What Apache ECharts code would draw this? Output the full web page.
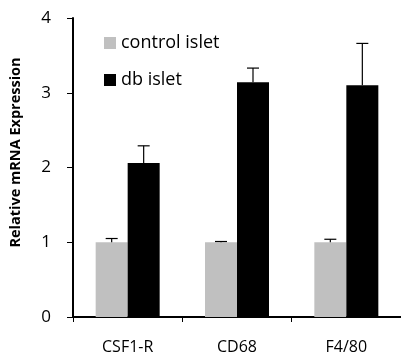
<!DOCTYPE html>
<html>
<head>
<meta charset="utf-8">
<script src="https://cdn.jsdelivr.net/npm/echarts@6/dist/echarts.min.js"></script>
<style>
  html, body { margin: 0; padding: 0; background: #fff; }
  #chart { width: 401px; height: 363px; }
</style>
</head>
<body>
<div id="chart"></div>
<script>
const categories = ['CSF1-R', 'CD68', 'F4/80']
const controlValues = [1.0, 1.0, 1.0]
const controlErrors = [0.05, 0.01, 0.04]
const dbValues = [2.06, 3.14, 3.10]
const dbErrors = [0.23, 0.19, 0.56]
const yTicks = [0, 1, 2, 3, 4]

const FONT = 'Open Sans'
const BAR_W = 32

const chart = echarts.init(document.getElementById('chart'), null, { renderer: 'canvas' })

// draws an upward-only error bar with a cap, offset to sit on the matching bar
function errorBar(offset) {
  return (params, api) => {
    const i = api.value(0)
    const top = api.coord([i, api.value(1) + api.value(2)])
    const base = api.coord([i, api.value(1)])
    const x = base[0] + offset
    const cap = 6
    return {
      type: 'group',
      children: [
        { type: 'line', shape: { x1: x, y1: base[1], x2: x, y2: top[1] }, style: { stroke: '#000', lineWidth: 1.2 } },
        { type: 'line', shape: { x1: x - cap, y1: top[1], x2: x + cap, y2: top[1] }, style: { stroke: '#000', lineWidth: 1.2 } },
      ],
    }
  }
}

const option = {
  animation: false,
  textStyle: { fontFamily: FONT },
  legend: {
    orient: 'vertical',
    left: 104,
    top: 34,
    padding: 0,
    itemWidth: 12,
    itemHeight: 12,
    itemGap: 19,
    icon: 'rect',
    textStyle: { fontFamily: FONT, fontSize: 18, color: '#000' },
    data: ['control islet', 'db islet'],
  },
  grid: { left: 72, right: -6, top: 18, bottom: 46 },
  xAxis: {
    type: 'category',
    data: categories,
    axisLine: { lineStyle: { color: '#000', width: 2 } },
    axisTick: { show: true, length: 5, lineStyle: { color: '#000', width: 1 } },
    axisLabel: { color: '#000', fontFamily: FONT, fontSize: 16, margin: 22 },
  },
  yAxis: {
    type: 'value',
    min: yTicks[0],
    max: yTicks[yTicks.length - 1],
    interval: 1,
    name: 'Relative mRNA Expression',
    nameLocation: 'middle',
    nameGap: 50,
    nameTextStyle: { color: '#000', fontFamily: FONT, fontSize: 14.5, fontWeight: 'bold', padding: [0, 0, 0, 30] },
    axisLine: { show: true, lineStyle: { color: '#000', width: 2 } },
    axisTick: { show: true, length: 6, lineStyle: { color: '#000', width: 1 } },
    axisLabel: { color: '#000', fontFamily: FONT, fontSize: 17, margin: 22 },
    splitLine: { show: false },
  },
  series: [
    {
      name: 'control islet',
      type: 'bar',
      data: controlValues,
      barWidth: BAR_W,
      barGap: '0%',
      itemStyle: { color: '#c0c0c0' },
    },
    {
      name: 'db islet',
      type: 'bar',
      data: dbValues,
      barWidth: BAR_W,
      barGap: '0%',
      itemStyle: { color: '#000' },
    },
    {
      type: 'custom',
      renderItem: errorBar(-BAR_W / 2),
      data: categories.map((c, i) => [i, controlValues[i], controlErrors[i]]),
      z: 10,
    },
    {
      type: 'custom',
      renderItem: errorBar(BAR_W / 2),
      data: categories.map((c, i) => [i, dbValues[i], dbErrors[i]]),
      z: 10,
    },
  ],
}

chart.setOption(option)
</script>
</body>
</html>
